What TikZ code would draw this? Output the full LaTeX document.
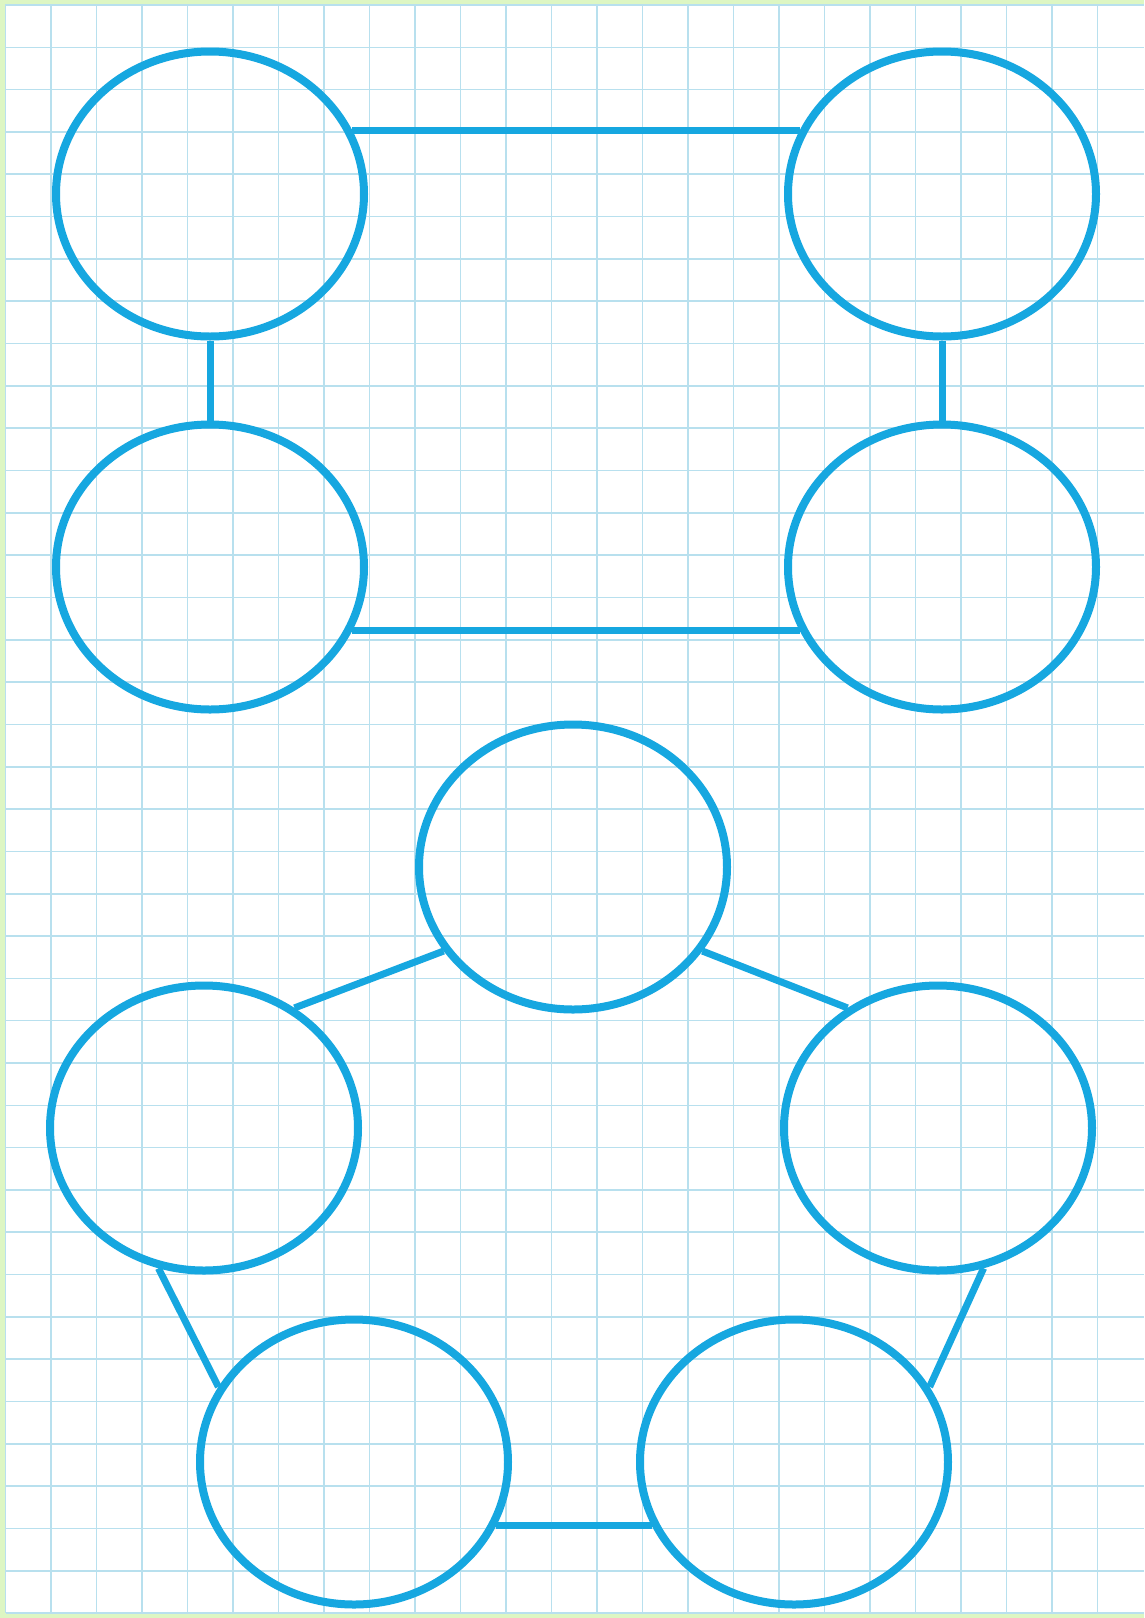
\documentclass[tikz,border=0pt]{standalone}
\usepackage{tikz}
\usetikzlibrary{shapes.geometric,positioning}
\definecolor{ringblue}{HTML}{16A7E0}
\definecolor{gridblue}{HTML}{B8E0EE}
\definecolor{papergreen}{HTML}{DDF6C3}
\begin{document}
\begin{tikzpicture}[
			x=1pt,y=-1pt,
			ring/.style={draw=ringblue,line width=8pt,ellipse,inner sep=0pt,minimum width=308pt,minimum height=285pt},
			link/.style={draw=ringblue,line width=7pt},
			gridline/.style={draw=gridblue,line width=1.6pt}
			]
			\useasboundingbox (0,0) rectangle (1144,1618);
			\fill[papergreen] (0,0) rectangle (1144,1618);
			\fill[white] (5.5,4) rectangle (1143.5,1613);
			\foreach \i in {0,...,24} \draw[gridline] ({5.5+45.5*\i},4) -- ({5.5+45.5*\i},1613);
			\foreach \j in {0,...,38} \draw[gridline] (5.5,{5+42.32*\j}) -- (1143.5,{5+42.32*\j});
			\node[ring] (nw) at (210,194) {};
			\node[ring] (ne) at (942,194) {};
			\node[ring] (sw) at (210,567) {};
			\node[ring] (se) at (942,567) {};
			\node[ring] (top) at (573,867) {};
			\node[ring] (lft) at (204,1128) {};
			\node[ring] (rgt) at (938,1128) {};
			\node[ring] (botl) at (354,1462) {};
			\node[ring] (botr) at (794,1462) {};
			\draw[link] (nw.24)--(ne.156);
			\draw[link] (nw.south)--(sw.north);
			\draw[link] (ne.south)--(se.north);
			\draw[link] (sw.-24)--(se.204);
			\draw[link] (top.213)--(lft.53);
			\draw[link] (top.-33)--(rgt.127);
			\draw[link] (lft.252)--(botl.151);
			\draw[link] (rgt.288)--(botr.29);
			\draw[link] (botl.-24)--(botr.204);
		\end{tikzpicture}
\end{document}
